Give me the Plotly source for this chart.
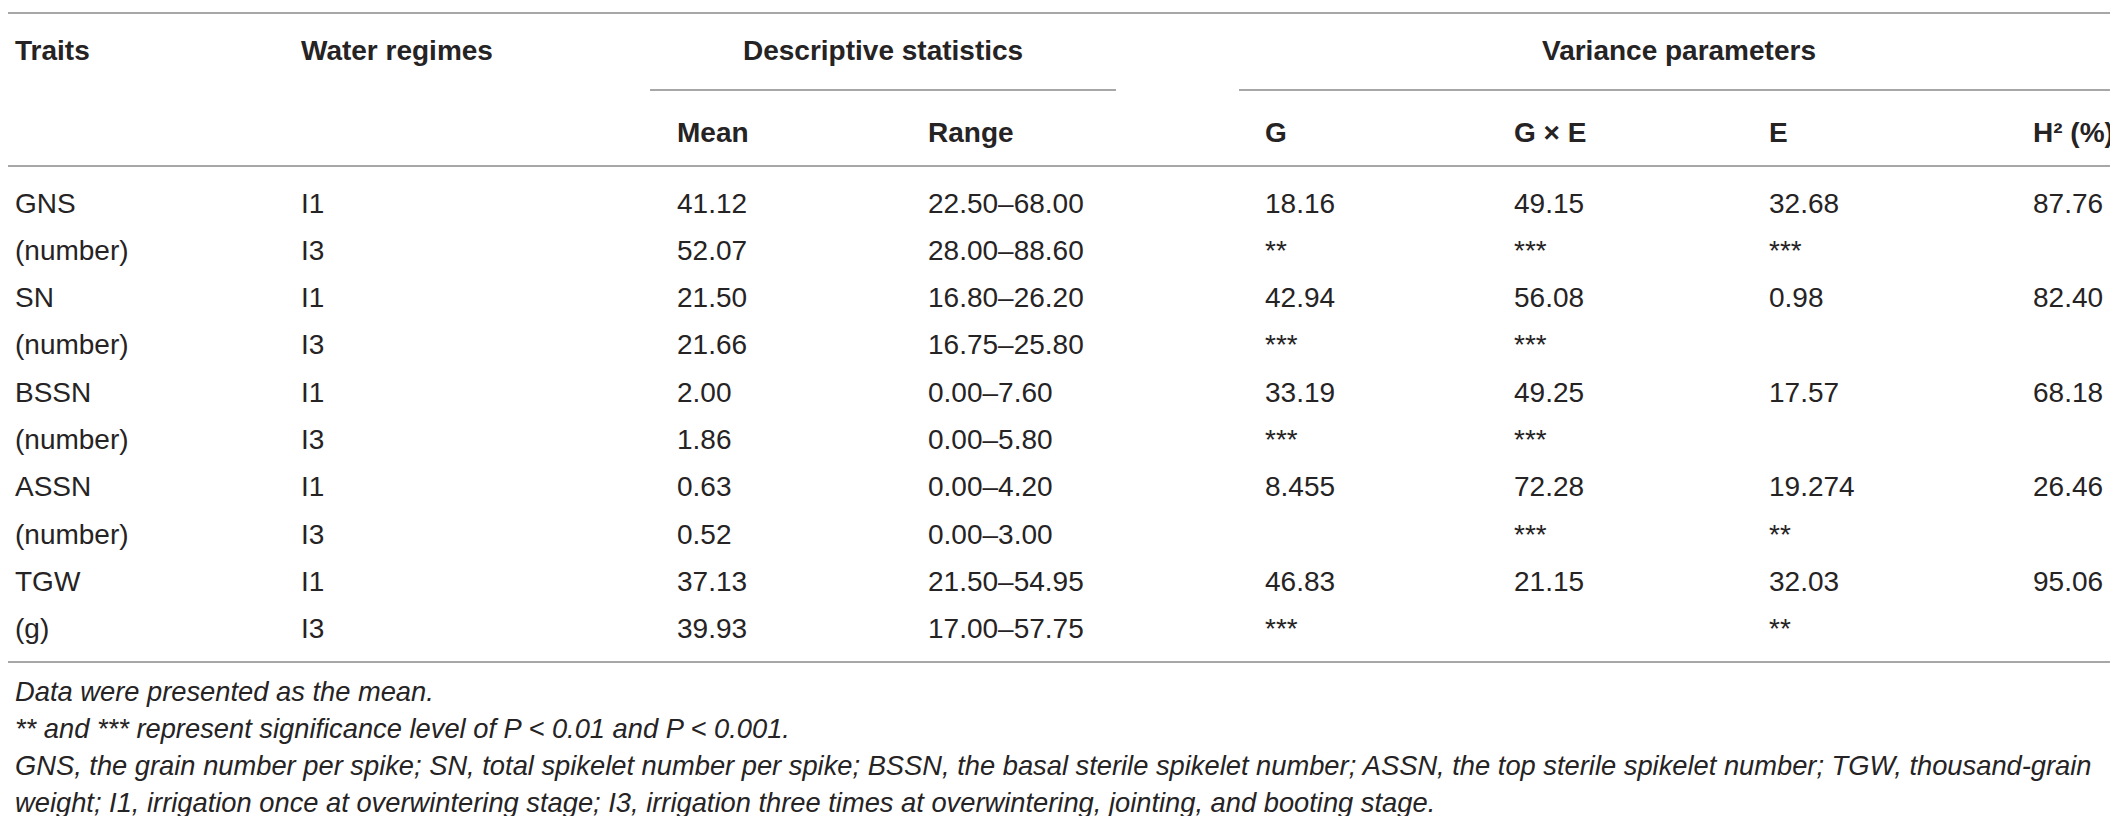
import plotly.graph_objects as go

# ---------------- data ----------------
traits = ["GNS", "SN", "BSSN", "ASSN", "TGW"]
units = ["(number)", "(number)", "(number)", "(number)", "(g)"]
regimes = ["I1", "I3"]
mean_vals = [41.12, 52.07, 21.50, 21.66, 2.00, 1.86, 0.63, 0.52, 37.13, 39.93]
range_low = [22.50, 28.00, 16.80, 16.75, 0.00, 0.00, 0.00, 0.00, 21.50, 17.00]
range_high = [68.00, 88.60, 26.20, 25.80, 7.60, 5.80, 4.20, 3.00, 54.95, 57.75]
g_vals = ["18.16", "42.94", "33.19", "8.455", "46.83"]
gxe_vals = ["49.15", "56.08", "49.25", "72.28", "21.15"]
e_vals = ["32.68", "0.98", "17.57", "19.274", "32.03"]
h2_vals = [87.76, 82.40, 68.18, 26.46, 95.06]
g_sig = ["**", "***", "***", "", "***"]
gxe_sig = ["***", "***", "***", "***", ""]
e_sig = ["***", "", "", "**", "**"]

header_top = ["Traits", "Water regimes", "Descriptive statistics", "Variance parameters"]
header_sub = ["Mean", "Range", "G", "G × E", "E", "H² (%)"]
footnotes = [
    "Data were presented as the mean.",
    "** and *** represent significance level of P < 0.01 and P < 0.001.",
    "GNS, the grain number per spike; SN, total spikelet number per spike; BSSN, the basal sterile spikelet number; ASSN, the top sterile spikelet number; TGW, thousand-grain",
    "weight; I1, irrigation once at overwintering stage; I3, irrigation three times at overwintering, jointing, and booting stage.",
]

# ---------------- layout geometry ----------------
W, H = 2118, 816
FS = 28
FS_FOOT = 27.3
TXT = "#262324"
RULE = "#8a8a8a"
FONT = "Liberation Sans, Arial, sans-serif"
col_x = {"trait": 5, "reg": 291, "mean": 667, "range": 918, "g": 1255,
         "gxe": 1504, "e": 1759, "h2": 2023}
row0, row_h = 195, 47.3
foot_y0, foot_h = 683, 37.3

fig = go.Figure()
ann = []


def add(x, y, text, weight=400, style="normal", xanchor="left", size=FS):
    ann.append(dict(x=x, y=y, xref="x", yref="y", text=text, showarrow=False,
                    xanchor=xanchor, yanchor="middle", align="left",
                    font=dict(family=FONT, size=size, color=TXT, weight=weight, style=style)))


# headers
add(col_x["trait"], 42, header_top[0], weight=700)
add(col_x["reg"], 42, header_top[1], weight=700)
add(875, 42, header_top[2], weight=700, xanchor="center")
add(1671, 42, header_top[3], weight=700, xanchor="center")
for key, lab in zip(["mean", "range", "g", "gxe", "e", "h2"], header_sub):
    add(col_x[key], 124, lab, weight=700)

# body
for i in range(len(traits)):
    for j in range(2):
        r = 2 * i + j
        y = row0 + r * row_h
        add(col_x["trait"], y, traits[i] if j == 0 else units[i])
        add(col_x["reg"], y, regimes[j])
        add(col_x["mean"], y, f"{mean_vals[r]:.2f}")
        add(col_x["range"], y, f"{range_low[r]:.2f}–{range_high[r]:.2f}")
        if j == 0:
            add(col_x["g"], y, g_vals[i])
            add(col_x["gxe"], y, gxe_vals[i])
            add(col_x["e"], y, e_vals[i])
            add(col_x["h2"], y, f"{h2_vals[i]:.2f}")
        else:
            for key, sig in (("g", g_sig[i]), ("gxe", gxe_sig[i]), ("e", e_sig[i])):
                if sig:
                    add(col_x[key], y, sig)

# footnotes
for k, t in enumerate(footnotes):
    add(col_x["trait"], foot_y0 + k * foot_h, t.replace("<", "&lt;"), style="italic", size=FS_FOOT)

shapes = []
for (x0, x1, y) in [(0, 2112, 5), (642, 1108, 82), (1231, 2112, 82), (0, 2112, 158), (0, 2112, 654)]:
    shapes.append(dict(type="line", xref="x", yref="y", x0=x0, x1=x1, y0=y, y1=y,
                       line=dict(color=RULE, width=1.5)))

fig.update_layout(
    width=W, height=H, margin=dict(l=0, r=0, t=0, b=0),
    paper_bgcolor="white", plot_bgcolor="white",
    xaxis=dict(range=[0, W], visible=False, fixedrange=True),
    yaxis=dict(range=[H, 0], visible=False, fixedrange=True),
    annotations=ann, shapes=shapes, showlegend=False,
)
fig.write_html("out.html", config={"displayModeBar": False})
